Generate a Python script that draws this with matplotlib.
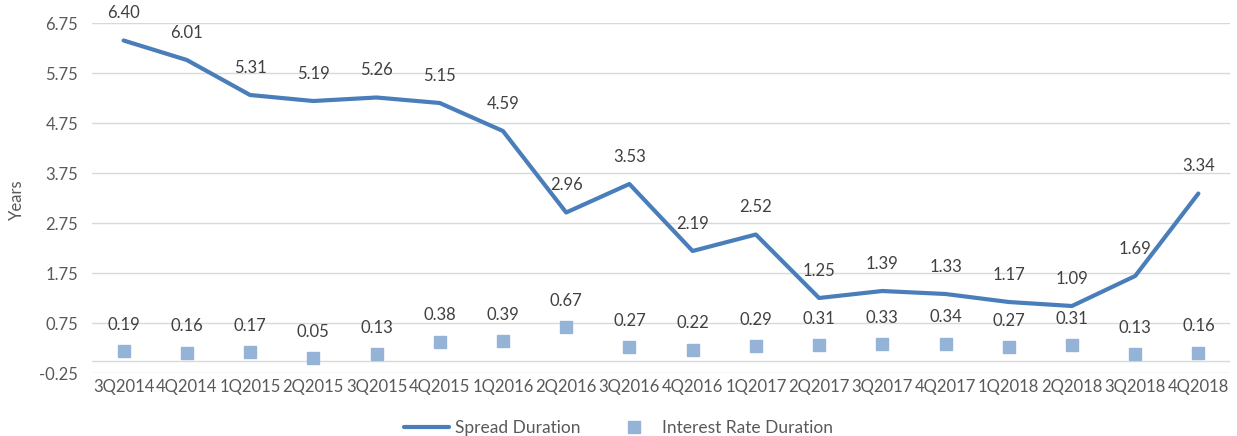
import matplotlib.pyplot as plt

quarters = ['3Q2014', '4Q2014', '1Q2015', '2Q2015', '3Q2015', '4Q2015', '1Q2016', '2Q2016', '3Q2016',
            '4Q2016', '1Q2017', '2Q2017', '3Q2017', '4Q2017', '1Q2018', '2Q2018', '3Q2018', '4Q2018']
spread_duration = [6.40, 6.01, 5.31, 5.19, 5.26, 5.15, 4.59, 2.96, 3.53,
                   2.19, 2.52, 1.25, 1.39, 1.33, 1.17, 1.09, 1.69, 3.34]
rate_duration = [0.19, 0.16, 0.17, 0.05, 0.13, 0.38, 0.39, 0.67, 0.27,
                 0.22, 0.29, 0.31, 0.33, 0.34, 0.27, 0.31, 0.13, 0.16]
y_ticks = [-0.25, 0.75, 1.75, 2.75, 3.75, 4.75, 5.75, 6.75]

plt.rcParams['font.family'] = ['Lato', 'DejaVu Sans']

fig = plt.figure(figsize=(12.37, 4.36), dpi=100)
ax = fig.add_axes([92 / 1237, 63 / 436, 1138 / 1237, 350 / 436])

x = list(range(len(quarters)))
line, = ax.plot(x, spread_duration, color='#4A7EBB', linewidth=3, solid_capstyle='round',
                label='Spread Duration', zorder=3)
pts, = ax.plot(x, rate_duration, linestyle='none', marker='s', markersize=8,
               color='#95B3D7', label='Interest Rate Duration', zorder=3)

for xi, v in zip(x, spread_duration):
    ax.annotate(f'{v:.2f}', (xi, v), xytext=(0, 14), textcoords='offset points',
                ha='center', va='bottom', fontsize=12, color='#404040')
for xi, v in zip(x, rate_duration):
    ax.annotate(f'{v:.2f}', (xi, v), xytext=(0, 13), textcoords='offset points',
                ha='center', va='bottom', fontsize=12, color='#404040')

ax.set_xlim(-0.5, len(quarters) - 0.5)
ax.set_ylim(-0.25, 6.75)
ax.set_yticks(y_ticks)
ax.set_yticklabels([f'{t:.2f}' for t in y_ticks])
ax.set_xticks(x)
ax.set_xticklabels(quarters)
ax.tick_params(length=0, labelsize=12, labelcolor='#595959')
ax.tick_params(axis='y', pad=10)
ax.tick_params(axis='x', pad=4)
ax.grid(axis='y', color='#D9D9D9', linewidth=1)
ax.axhline(0, color='#D9D9D9', linewidth=1, zorder=1)
ax.set_axisbelow(True)
for s in ax.spines.values():
    s.set_visible(False)

fig.text(17 / 1237, 1 - 200 / 436, 'Years', rotation=90, ha='center', va='center',
         fontsize=12, color='#595959')

fig.legend(handles=[line, pts], loc='center', bbox_to_anchor=(0.5, 8 / 436), ncol=2,
           frameon=False, fontsize=12.5, labelcolor='#595959', handlelength=2.6,
           columnspacing=1.8, handletextpad=0.3)

fig.savefig('out.png', dpi=100)
